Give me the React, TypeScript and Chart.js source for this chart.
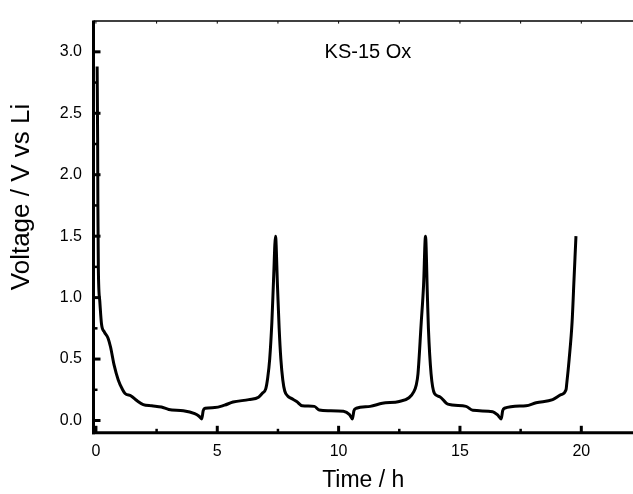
import React, { useEffect, useRef } from "react";
import { Chart, registerables } from "chart.js";

Chart.register(...registerables);

// ---- data ----
const timeH: number[] = [
  0.05, 0.07, 0.08, 0.09, 0.1, 0.16, 0.23, 0.35, 0.5, 0.6, 0.75, 0.92, 1.1, 1.2, 1.45, 1.7, 1.95, 2.3, 2.7, 3.0, 3.6, 4.07, 4.25, 4.36,
  4.42, 4.5, 4.9, 5.3, 5.65, 6.3, 6.7, 6.85, 7.0, 7.08, 7.16, 7.25, 7.32, 7.4,
  7.48, 7.55, 7.62, 7.7, 7.78, 7.9, 8.05, 8.27, 8.5, 9.0, 9.2, 9.6, 10.2, 10.45, 10.57,
  10.63, 10.73, 11.3, 11.8, 12.5, 12.9, 13.1, 13.2, 13.27, 13.4, 13.5, 13.58,
  13.66, 13.7, 13.81, 13.95, 14.16, 14.5, 15.25, 15.53, 16.35, 16.55, 16.7,
  16.76, 16.83, 17.72, 18.14, 18.82, 19.16, 19.37, 19.4, 19.5, 19.62, 19.7, 19.78,
];
const voltage: number[] = [
  2.88, 2.3, 1.77, 1.5, 1.23, 0.97, 0.785, 0.72, 0.67, 0.6, 0.45, 0.33, 0.25, 0.22, 0.2, 0.16, 0.13, 0.12, 0.11, 0.09, 0.08, 0.056, 0.035, 0.013,
  0.08, 0.1, 0.105, 0.125, 0.15, 0.17, 0.19, 0.22, 0.26, 0.35, 0.5, 0.8, 1.15, 1.5,
  1.1, 0.75, 0.5, 0.33, 0.24, 0.2, 0.18, 0.155, 0.12, 0.115, 0.085, 0.08, 0.075, 0.048, 0.013,
  0.08, 0.1, 0.115, 0.14, 0.155, 0.185, 0.235, 0.29, 0.38, 0.785, 1.1, 1.5,
  1.0, 0.75, 0.38, 0.22, 0.195, 0.133, 0.115, 0.083, 0.072, 0.045, 0.013,
  0.08, 0.1, 0.12, 0.145, 0.17, 0.21, 0.25, 0.3, 0.5, 0.8, 1.15, 1.5,
];

const xMajorTicks: number[] = [0, 5, 10, 15, 20];
const xMinorTicks: number[] = [2.5, 7.5, 12.5, 17.5];
const yMajorTicks: number[] = [0, 0.5, 1.0, 1.5, 2.0, 2.5, 3.0];
const yMinorTicks: number[] = [0.25, 0.75, 1.25, 1.75, 2.25, 2.75];

const X_MIN = -0.1;
const X_MAX = 22.13;
const Y_MIN = -0.1;
const Y_MAX = 3.25;

const xTitle = "Time / h";
const yTitle = "Voltage / V vs Li";
const sampleLabel = "KS-15 Ox";
const sampleLabelAt = { x: 9.42, y: 2.95 };

const FONT = '"Liberation Sans", Arial, sans-serif';

const framePlugin = {
  id: "frame",
  afterDraw(chart: any) {
    const { ctx, chartArea: a, scales } = chart;
    const xs = scales.x;
    const ys = scales.y;
    const line = (x1: number, y1: number, x2: number, y2: number) => {
      ctx.beginPath();
      ctx.moveTo(x1, y1);
      ctx.lineTo(x2, y2);
      ctx.stroke();
    };
    ctx.save();
    ctx.strokeStyle = "#000";
    ctx.lineCap = "butt";

    // top frame line + small ticks
    ctx.lineWidth = 1.5;
    line(a.left, a.top, a.right, a.top);
    ctx.lineWidth = 1;
    [...xMajorTicks, ...xMinorTicks].forEach((v) => {
      const px = xs.getPixelForValue(v);
      line(px, a.top, px, a.top + 2.5);
    });

    // left axis
    ctx.lineWidth = 3;
    line(a.left, a.top - 0.5, a.left, a.bottom + 1.5);
    yMajorTicks.forEach((v) => {
      const py = ys.getPixelForValue(v);
      line(a.left, py, a.left + 7, py);
    });
    ctx.lineWidth = 2.5;
    yMinorTicks.forEach((v) => {
      const py = ys.getPixelForValue(v);
      line(a.left, py, a.left + 4, py);
    });

    // bottom axis
    ctx.lineWidth = 3;
    line(a.left - 1.5, a.bottom, a.right, a.bottom);
    xMajorTicks.forEach((v) => {
      const px = xs.getPixelForValue(v);
      line(px, a.bottom, px, a.bottom - 7);
    });
    ctx.lineWidth = 2.5;
    xMinorTicks.forEach((v) => {
      const px = xs.getPixelForValue(v);
      line(px, a.bottom, px, a.bottom - 4);
    });

    // y-axis title
    ctx.fillStyle = "#000";
    ctx.font = `26px ${FONT}`;
    ctx.textAlign = "center";
    ctx.textBaseline = "middle";
    ctx.translate(22, 197);
    ctx.rotate(-Math.PI / 2);
    ctx.fillText(yTitle, 0, 0);
    ctx.restore();

    // sample label
    ctx.save();
    ctx.fillStyle = "#000";
    ctx.font = `20px ${FONT}`;
    ctx.textAlign = "left";
    ctx.textBaseline = "alphabetic";
    ctx.fillText(sampleLabel, xs.getPixelForValue(sampleLabelAt.x), ys.getPixelForValue(sampleLabelAt.y));
    ctx.restore();
  },
};

export default function App() {
  const canvasRef = useRef<HTMLCanvasElement | null>(null);

  useEffect(() => {
    if (!canvasRef.current) return;
    const chart = new Chart(canvasRef.current, {
      type: "line",
      data: {
        datasets: [
          {
            label: sampleLabel,
            data: timeH.map((t, i) => ({ x: t, y: voltage[i] })),
            borderColor: "#000",
            borderWidth: 3,
            pointRadius: 0,
            cubicInterpolationMode: "monotone",
            fill: false,
          },
        ],
      },
      options: {
        animation: false,
        responsive: false,
        layout: { padding: { top: 15, right: 0, left: 0, bottom: 0 } },
        plugins: { legend: { display: false }, tooltip: { enabled: false } },
        scales: {
          x: {
            type: "linear",
            min: X_MIN,
            max: X_MAX,
            afterBuildTicks: (s: any) => {
              s.ticks = xMajorTicks.map((v) => ({ value: v }));
            },
            afterFit: (s: any) => {
              s.height = 61.2;
            },
            grid: { display: false, drawTicks: false },
            border: { display: false },
            ticks: {
              color: "#000",
              font: { family: FONT, size: 16 },
              padding: 9,
              maxRotation: 0,
              autoSkip: false,
              callback: (v: any) => String(v),
            },
            title: {
              display: true,
              text: xTitle,
              color: "#000",
              font: { family: FONT, size: 23 },
              padding: { top: 0, bottom: 0 },
            },
          },
          y: {
            type: "linear",
            min: Y_MIN,
            max: Y_MAX,
            afterBuildTicks: (s: any) => {
              s.ticks = yMajorTicks.map((v) => ({ value: v }));
            },
            afterFit: (s: any) => {
              s.width = 93.5;
            },
            grid: { display: false, drawTicks: false },
            border: { display: false },
            ticks: {
              color: "#000",
              font: { family: FONT, size: 16 },
              padding: 11.5,
              autoSkip: false,
              callback: (v: any) => Number(v).toFixed(1),
            },
          },
        },
      },
      plugins: [framePlugin],
    });
    return () => chart.destroy();
  }, []);

  return (
    <div style={{ position: "absolute", left: 0, top: 0, width: 633, height: 494, background: "#fff" }}>
      <canvas ref={canvasRef} width={633} height={494} style={{ display: "block" }} />
    </div>
  );
}
